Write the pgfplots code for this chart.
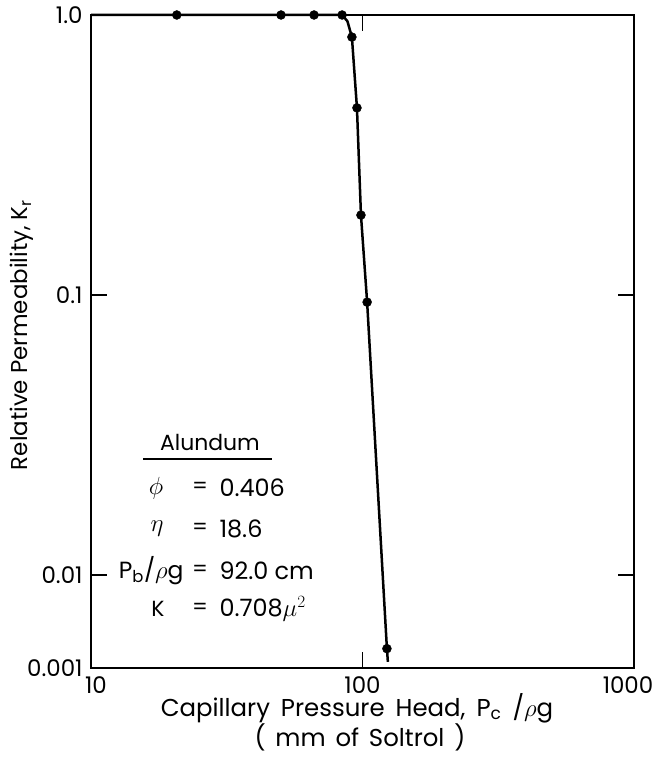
\documentclass[border=0pt]{standalone}
\usepackage{pgfplots}
\pgfplotsset{compat=1.18}
\usepackage{fontspec}
\setmainfont{Poppins}
\begin{document}
\fontsize{22}{26}\selectfont
\begin{tikzpicture}[x=1bp,y=1bp]
\useasboundingbox (-91,-93) rectangle (565,668);
\begin{axis}[at={(0,0)}, anchor=south west, scale only axis,
  width=543bp, height=653bp,
  xmode=log, ymode=log,
  xmin=10, xmax=1000, ymin=0.004656, ymax=1,
  xtick={10,100,1000}, xticklabels={\hspace*{10bp}10,100,1000\hspace*{12bp}},
  ytick={0.004656,0.01,0.1,1}, yticklabels={0.001,0.01,0.1,1.0},
  minor tick style={draw=none},
  major tick length=16bp,
  tick align=inside,
  tick style={line width=1.5bp, black},
  axis line style={line width=2.5bp},
  ticklabel style={font=\fontsize{23}{27}\selectfont},
  xticklabel style={yshift=-1bp},
  yticklabel style={xshift=-1bp},
  clip=false,
]
\addplot[black, line width=2.5bp] coordinates {
  (10,1) (84.1,1) (88,0.95) (91.4,0.834) (95.4,0.466) (98.7,0.193)
  (104,0.0943) (123,0.00546) (124,0.0049)
};
\addplot[only marks, mark=*, mark size=4.5bp, black] coordinates {
  (20.7,1) (50.1,1) (66.3,1) (84.1,1) (91.4,0.834) (95.4,0.466)
  (98.7,0.193) (104,0.0943) (123,0.00546)
};
\end{axis}
\node[rotate=90, font=\fontsize{23}{27}\selectfont] at (-69,333) {Relative Permeability, K\textsubscript{r}};
\node[font=\fontsize{24.5}{29}\selectfont] at (266,-40) {\spaceskip=0.45em Capillary Pressure Head, P\textsubscript{c} /$\rho$g};
\node[font=\fontsize{24.5}{29}\selectfont] at (269,-69) {\spaceskip=0.4em ( mm of Soltrol )};
\node at (119,226) {Alundum};
\draw[line width=1.5bp] (52,209) -- (181,209);
\node[font=\fontsize{30}{34}\selectfont] at (65,180) {$\phi$};
\node[font=\fontsize{28}{32}\selectfont] at (66,139) {$\eta$};
\node[anchor=east, font=\fontsize{23.5}{28}\selectfont] at (100,97) {P\textsubscript{b}/$\rho$g};
\node at (67,59) {K};
\node at (109,180) {=};
\node at (109,139) {=};
\node at (109,97) {=};
\node at (109,59) {=};
\node[anchor=west, font=\fontsize{24}{28}\selectfont] at (121,180) {0.406};
\node[anchor=west, font=\fontsize{24}{28}\selectfont] at (121,139) {18.6};
\node[anchor=west, font=\fontsize{24}{28}\selectfont] at (121,97) {92.0 cm};
\node[anchor=west, font=\fontsize{24}{28}\selectfont] at (121,59) {0.708$\mu^{2}$};
\end{tikzpicture}
\end{document}
